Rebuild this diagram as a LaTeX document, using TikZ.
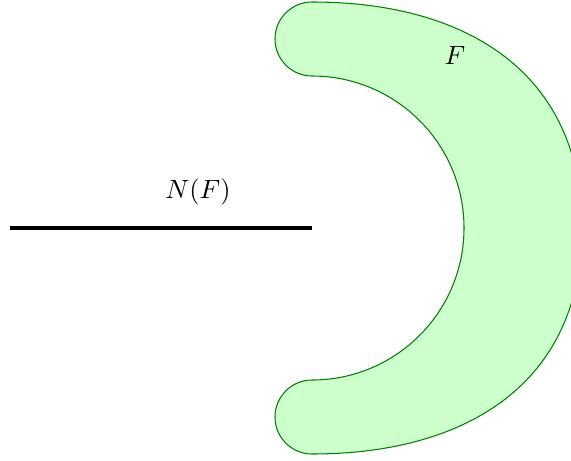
\documentclass[tikz,border=0pt]{standalone}
\begin{document}
\begin{tikzpicture}[x=0.379pt,y=0.379pt,
  region/.style={draw=green!50!black,fill=green!20,line width=0.4pt},
  segline/.style={line width=1.2pt}]
\useasboundingbox (0,0) rectangle (571,460);
\coordinate (itop) at (312,384);
\path[region] (itop) arc[start angle=90,end angle=-90,radius=152]
  arc[start angle=90,end angle=270,radius=37]
  .. controls (467,6) and (582,77) .. (582,232)
  .. controls (582,387) and (467,458) .. (312,458)
  arc[start angle=90,end angle=270,radius=37] -- cycle;
\coordinate (a) at (10,232);
\coordinate (b) at (312,232);
\draw[segline] (a) -- (b);
\node (nf) at (198,268) {$N(F)$};
\node (f) at (455,405) {$F$};
\end{tikzpicture}
\end{document}
